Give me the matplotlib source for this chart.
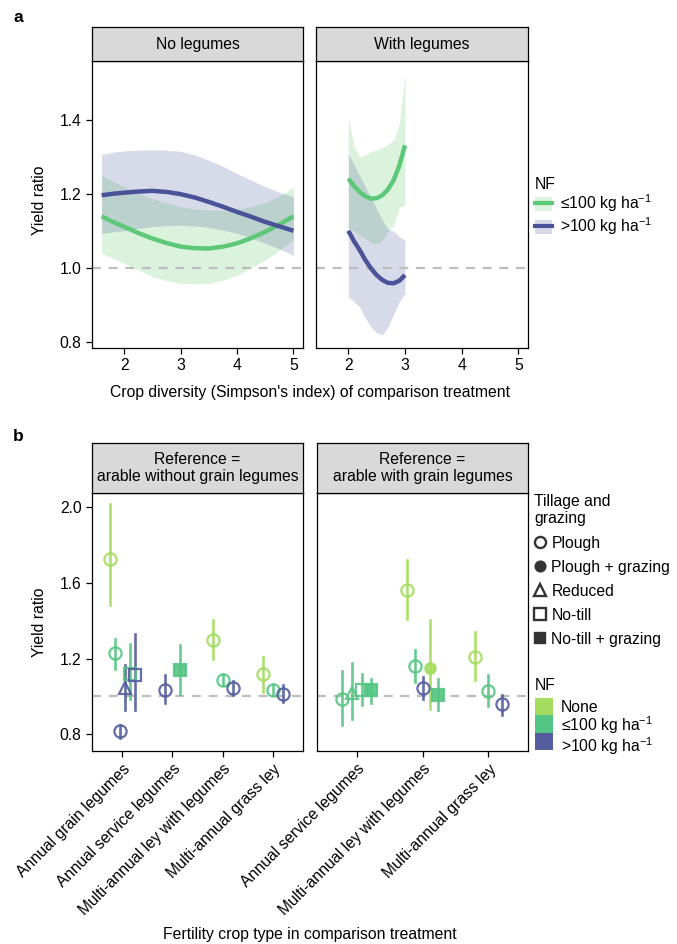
import matplotlib
matplotlib.use('Agg')
import matplotlib.pyplot as plt
from matplotlib.lines import Line2D
from matplotlib.patches import Patch, Rectangle

plt.rcParams['font.family'] = ['Liberation Sans', 'DejaVu Sans']
plt.rcParams['mathtext.fontset'] = 'custom'
plt.rcParams['mathtext.rm'] = 'Liberation Sans'
plt.rcParams['mathtext.it'] = 'Liberation Sans:italic'
plt.rcParams['font.size'] = 11.3

# ---- panel a data (fitted yield ratio vs crop diversity) ----
div_no = [1.6, 1.8, 2.0, 2.25, 2.5, 2.75, 3.0, 3.25, 3.5, 3.75, 4.0, 4.25, 4.5, 4.75, 5.0]
low_fit_no = [1.140, 1.125, 1.112, 1.095, 1.080, 1.068, 1.058, 1.054, 1.053, 1.058,
              1.067, 1.081, 1.098, 1.118, 1.140]
low_hi_no = [1.251, 1.235, 1.220, 1.203, 1.188, 1.176, 1.166, 1.160, 1.157, 1.156,
             1.159, 1.166, 1.177, 1.195, 1.218]
low_lo_no = [1.040, 1.027, 1.013, 0.995, 0.977, 0.966, 0.959, 0.957, 0.959, 0.967,
             0.981, 1.000, 1.022, 1.048, 1.076]
high_fit_no = [1.197, 1.201, 1.204, 1.207, 1.209, 1.206, 1.200, 1.191, 1.179, 1.166,
               1.152, 1.139, 1.125, 1.113, 1.101]
high_hi_no = [1.307, 1.313, 1.317, 1.319, 1.320, 1.319, 1.316, 1.306, 1.292, 1.275,
              1.256, 1.238, 1.220, 1.205, 1.193]
high_lo_no = [1.094, 1.098, 1.101, 1.107, 1.112, 1.115, 1.116, 1.114, 1.110, 1.103,
              1.094, 1.082, 1.067, 1.052, 1.035]

div_leg = [2.0, 2.1, 2.2, 2.3, 2.4, 2.5, 2.6, 2.7, 2.8, 2.9, 3.0]
low_fit_leg = [1.242, 1.222, 1.206, 1.194, 1.188, 1.189, 1.197, 1.213, 1.238, 1.277, 1.332]
low_hi_leg = [1.405, 1.330, 1.301, 1.305, 1.315, 1.320, 1.326, 1.335, 1.346, 1.391, 1.526]
low_lo_leg = [1.110, 1.100, 1.090, 1.080, 1.070, 1.065, 1.075, 1.100, 1.115, 1.165, 1.170]
high_fit_leg = [1.101, 1.073, 1.049, 1.022, 0.999, 0.981, 0.968, 0.960, 0.959, 0.966, 0.981]
high_hi_leg = [1.310, 1.280, 1.250, 1.220, 1.190, 1.160, 1.130, 1.105, 1.100, 1.085, 1.075]
high_lo_leg = [0.922, 0.910, 0.895, 0.865, 0.841, 0.825, 0.820, 0.841, 0.875, 0.910, 0.931]

# ---- panel b data (yield ratio by fertility crop type) ----
cats_without = ['Annual grain legumes', 'Annual service legumes',
                'Multi-annual ley with legumes', 'Multi-annual grass ley']
cat_w = [0, 0, 0, 0, 0, 0, 1, 1, 2, 2, 2, 3, 3, 3]
nf_w = ['none', 'low', 'high', 'high', 'low', 'high', 'high', 'low',
        'none', 'low', 'high', 'none', 'low', 'high']
till_w = ['Plough', 'Plough', 'Plough', 'Reduced', 'No-till', 'No-till',
          'Plough', 'No-till + grazing', 'Plough', 'Plough', 'Plough',
          'Plough', 'Plough', 'Plough']
est_w = [1.728, 1.230, 0.816, 1.042, 1.121, 1.112, 1.036, 1.138,
         1.300, 1.089, 1.047, 1.116, 1.036, 1.015]
lo_w = [1.483, 1.147, 0.778, 0.927, 0.984, 0.927, 0.963, 1.015,
        1.200, 1.058, 1.006, 1.024, 1.006, 0.971]
hi_w = [2.014, 1.305, 0.848, 1.165, 1.279, 1.328, 1.112, 1.270,
        1.406, 1.118, 1.082, 1.209, 1.064, 1.059]

cats_with = ['Annual service legumes', 'Multi-annual ley with legumes',
             'Multi-annual grass ley']
cat_g = [0, 0, 0, 0, 1, 1, 1, 1, 1, 2, 2, 2]
nf_g = ['low', 'low', 'low', 'low', 'none', 'low', 'high', 'none', 'low',
        'none', 'low', 'high']
till_g = ['Plough', 'Reduced', 'No-till', 'No-till + grazing', 'Plough',
          'Plough', 'Plough', 'Plough + grazing', 'No-till + grazing',
          'Plough', 'Plough', 'Plough']
est_g = [0.984, 1.019, 1.036, 1.033, 1.560, 1.159, 1.045, 1.152, 1.006,
         1.209, 1.029, 0.959]
lo_g = [0.848, 0.883, 0.954, 0.966, 1.411, 1.077, 0.984, 0.936, 0.927,
        1.085, 0.948, 0.901]
hi_g = [1.135, 1.174, 1.121, 1.094, 1.719, 1.247, 1.103, 1.406, 1.094,
        1.340, 1.112, 1.006]

nf_colors = {'none': '#a3dc5e', 'low': '#55c585', 'high': '#545d9e'}
nf_labels = {'none': 'None', 'low': r'≤100 kg ha$^{-1}$', 'high': r'>100 kg ha$^{-1}$'}
till_marker = {'Plough': ('o', False), 'Plough + grazing': ('o', True),
               'Reduced': ('^', False), 'No-till': ('s', False),
               'No-till + grazing': ('s', True)}

line_green = '#5cc878'
line_blue = '#4a5398'
fill_green = '#5ec962'
fill_blue = '#3b4994'

FS = 11.3
W, H = 677, 944
fig = plt.figure(figsize=(W / 100, H / 100), dpi=100)


def box(x0, y0, x1, y1):
    # pixel box (top-left origin) to figure fraction rect
    return [x0 / W, 1 - y1 / H, (x1 - x0) / W, (y1 - y0) / H]


def strip(x0, y0, x1, y1, text):
    s = fig.add_axes(box(x0, y0, x1, y1))
    s.set_facecolor('#d9d9d9')
    s.set_xticks([])
    s.set_yticks([])
    for sp in s.spines.values():
        sp.set_linewidth(0.9)
    s.text(0.5, 0.5, text, ha='center', va='center', fontsize=FS,
           linespacing=1.2, transform=s.transAxes)


def style(ax):
    for sp in ax.spines.values():
        sp.set_linewidth(0.9)
    ax.tick_params(direction='out', length=4, width=0.9, labelsize=FS)


# ---------------- panel a ----------------
ax_a1 = fig.add_axes(box(92, 61, 303, 348))
ax_a2 = fig.add_axes(box(316, 61, 528, 348))
strip(92, 27, 303, 61, 'No legumes')
strip(316, 27, 528, 61, 'With legumes')

panels_a = [
    (ax_a1, div_no, low_fit_no, low_lo_no, low_hi_no, high_fit_no, high_lo_no, high_hi_no),
    (ax_a2, div_leg, low_fit_leg, low_lo_leg, low_hi_leg, high_fit_leg, high_lo_leg, high_hi_leg),
]
for ax, xs, lf, ll, lh, hf, hl, hh in panels_a:
    ax.fill_between(xs, ll, lh, color=fill_green, alpha=0.22, lw=0)
    ax.fill_between(xs, hl, hh, color=fill_blue, alpha=0.2, lw=0)
    ax.axhline(1.0, color='#bdbdbd', lw=1.6, ls=(0, (4, 3.5)), zorder=1)
    ax.plot(xs, lf, color=line_green, lw=3.2, solid_capstyle='butt', solid_joinstyle='round')
    ax.plot(xs, hf, color=line_blue, lw=3.2, solid_capstyle='butt', solid_joinstyle='round')
    ax.set_xlim(1.43, 5.17)
    ax.set_ylim(0.784, 1.56)
    ax.set_xticks([2, 3, 4, 5])
    ax.set_yticks([0.8, 1.0, 1.2, 1.4])
    style(ax)
ax_a2.tick_params(axis='y', left=False, labelleft=False)

fig.text(13 / W, 1 - 17 / H, 'a', fontsize=12.5, fontweight='bold', va='center')
fig.text(40 / W, 1 - 200 / H, 'Yield ratio', rotation=90, ha='center', va='center', fontsize=FS)
fig.text(310 / W, 1 - 393 / H, "Crop diversity (Simpson's index) of comparison treatment",
         ha='center', va='center', fontsize=FS)

leg_a = [(Patch(color=fill_green, alpha=0.22, lw=0), Line2D([], [], color=line_green, lw=3)),
         (Patch(color=fill_blue, alpha=0.2, lw=0), Line2D([], [], color=line_blue, lw=3))]
fig.legend(leg_a, [nf_labels['low'], nf_labels['high']], title='NF',
           loc='upper left', bbox_to_anchor=(535 / W, 1 - 177 / H),
           frameon=False, fontsize=FS, title_fontsize=FS, alignment='left',
           handlelength=1.1, handleheight=1.0, handletextpad=0.5,
           labelspacing=0.05, borderpad=0, borderaxespad=0)

# ---------------- panel b ----------------
ax_b1 = fig.add_axes(box(92, 493, 303, 751))
ax_b2 = fig.add_axes(box(317, 493, 528, 751))
strip(92, 443, 303, 493, 'Reference =\narable without grain legumes')
strip(317, 443, 528, 493, 'Reference =\narable with grain legumes')

facets = [
    (ax_b1, cats_without, cat_w, nf_w, till_w, est_w, lo_w, hi_w),
    (ax_b2, cats_with, cat_g, nf_g, till_g, est_g, lo_g, hi_g),
]
for ax, cats, cat, nf, till, est, lo, hi in facets:
    ax.axhline(1.0, color='#bdbdbd', lw=1.6, ls=(0, (4, 3.5)), zorder=1)
    for c in range(len(cats)):
        idx = [i for i in range(len(cat)) if cat[i] == c]
        n = len(idx)
        for j, i in enumerate(idx):
            x = c + 1 + (j - (n - 1) / 2) * 0.6 / n
            col = nf_colors[nf[i]]
            mk, filled = till_marker[till[i]]
            ax.plot([x, x], [lo[i], hi[i]], color=col, lw=1.9, alpha=0.9, zorder=2)
            ms = 7.5 if mk == 'o' and filled else 8.8
            ax.plot(x, est[i], marker=mk, ms=ms, mew=1.6, mec=col,
                    mfc=col if filled else 'none', alpha=0.9, zorder=3)
    ax.set_xlim(0.4, len(cats) + 0.6)
    ax.set_ylim(0.712, 2.074)
    ax.set_yticks([0.8, 1.2, 1.6, 2.0])
    ax.set_xticks(range(1, len(cats) + 1))
    ax.set_xticklabels(cats, rotation=45, ha='right', rotation_mode='anchor', fontsize=FS)
    style(ax)
ax_b2.tick_params(axis='y', left=False, labelleft=False)

fig.text(13 / W, 1 - 437 / H, 'b', fontsize=12.5, fontweight='bold', va='center')
fig.text(40 / W, 1 - 622 / H, 'Yield ratio', rotation=90, ha='center', va='center', fontsize=FS)
fig.text(310 / W, 1 - 935 / H, 'Fertility crop type in comparison treatment',
         ha='center', va='center', fontsize=FS)

till_order = ['Plough', 'Plough + grazing', 'Reduced', 'No-till', 'No-till + grazing']
till_handles = []
for t in till_order:
    mk, filled = till_marker[t]
    till_handles.append(Line2D([], [], ls='none', marker=mk, ms=8 if not filled else 7,
                               mew=1.7, mec='#333333',
                               mfc='#333333' if filled else 'none'))
fig.legend(till_handles, till_order, title='Tillage and\ngrazing',
           loc='upper left', bbox_to_anchor=(534 / W, 1 - 494 / H),
           frameon=False, fontsize=FS, title_fontsize=FS, alignment='left',
           handlelength=0.8, handletextpad=0.3, labelspacing=0.58,
           borderpad=0, borderaxespad=0)

# NF key for panel b: contiguous colour blocks with one stacked label text
fig.text(535 / W, 1 - 686 / H, 'NF', fontsize=FS, va='center', ha='left')
nf_order = ['none', 'low', 'high']
for k, key in enumerate(nf_order):
    top = 698 + k * 17.4
    fig.add_artist(Rectangle((535 / W, 1 - (top + 17.4) / H), 18 / W, 17.4 / H,
                             transform=fig.transFigure, facecolor=nf_colors[key],
                             edgecolor='none'))
fig.text(561 / W, 1 - 700 / H, '\n'.join(nf_labels[k] for k in nf_order),
         fontsize=FS, va='top', ha='left', linespacing=0.97)

fig.savefig('out.png', dpi=100)
